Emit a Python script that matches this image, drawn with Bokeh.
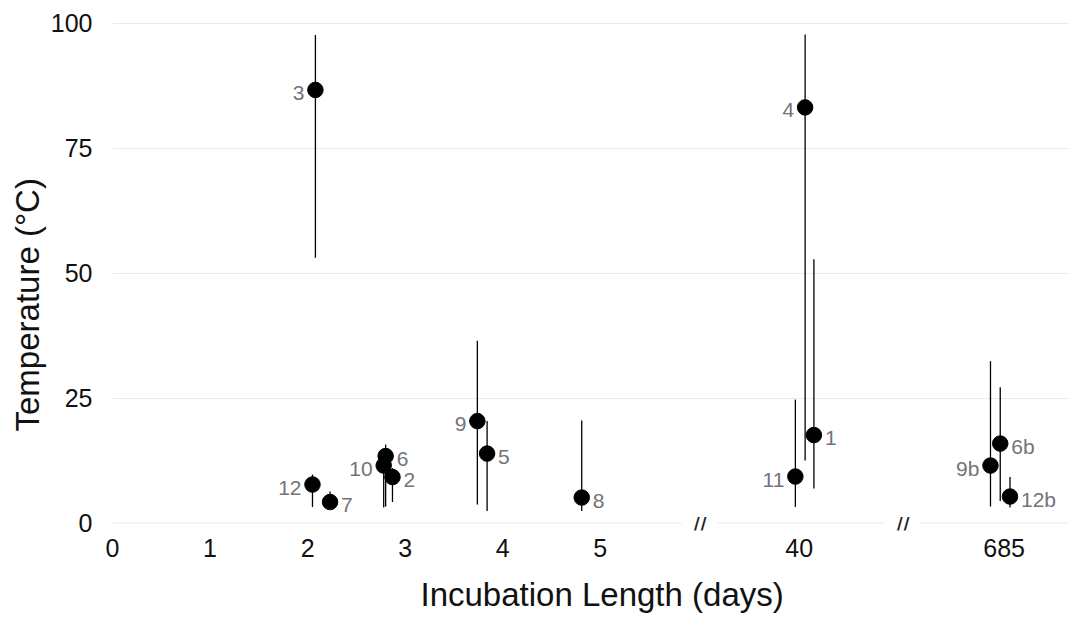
from bokeh.plotting import figure
from bokeh.models import ColumnDataSource, Range1d, FixedTicker, Title
from bokeh.core.properties import value
from bokeh.embed import file_html
from bokeh.resources import INLINE

# ---- data (x positions are on the broken axis: 0-5 days, then 40, then 685) ----
labels = ["3", "12", "7", "10", "6", "2", "9", "5", "8", "11", "4", "1", "9b", "6b", "12b"]
x_pos = [2.08, 2.05, 2.23, 2.78, 2.80, 2.87, 3.74, 3.84, 4.81, 7.00, 7.10, 7.19, 9.00, 9.10, 9.20]
temp = [86.7, 7.7, 4.2, 11.5, 13.4, 9.2, 20.4, 13.9, 5.1, 9.3, 83.2, 17.6, 11.5, 15.9, 5.3]
temp_low = [53.1, 3.2, 3.6, 3.1, 3.3, 4.2, 3.7, 2.4, 2.4, 3.2, 12.5, 6.9, 3.3, 4.4, 3.1]
temp_high = [97.7, 9.7, 6.3, 12.5, 15.7, 11.0, 36.5, 20.4, 20.5, 24.7, 97.8, 52.8, 32.4, 27.2, 9.2]
label_side = ["L", "L", "R", "L", "R", "R", "L", "R", "R", "L", "L", "R", "L", "R", "R"]

x_ticks = [0, 1, 2, 3, 4, 5, 7.04, 9.14]
x_tick_labels = ["0", "1", "2", "3", "4", "5", "40", "685"]
y_ticks = [0, 25, 50, 75, 100]
break_pos = [6.02, 8.10]
break_half_gap = 0.18
X_END = 9.81

FONT = "Liberation Sans"

p = figure(width=1069, height=627, output_backend="svg", toolbar_location=None,
           x_range=Range1d(0, X_END), y_range=Range1d(-1.5, 102))
p.min_border_left = 112
p.min_border_right = 0
p.min_border_top = 13
p.min_border_bottom = 97
p.outline_line_color = None
p.background_fill_color = "white"
p.border_fill_color = "white"

# axes
p.xaxis.ticker = FixedTicker(ticks=x_ticks)
p.xaxis.major_label_overrides = {t: l for t, l in zip(x_ticks, x_tick_labels)}
p.yaxis.ticker = FixedTicker(ticks=y_ticks)
for ax in (p.xaxis[0], p.yaxis[0]):
    ax.axis_line_color = None
    ax.major_tick_line_color = None
    ax.minor_tick_line_color = None
    ax.major_tick_in = 0
    ax.major_tick_out = 0
    ax.major_label_text_font = FONT
    ax.major_label_text_font_size = "25px"
    ax.major_label_text_color = "#111111"
p.yaxis.major_label_standoff = 20
p.xaxis.major_label_standoff = 8

p.xgrid.grid_line_color = None
p.ygrid.ticker = FixedTicker(ticks=[25, 50, 75, 100])
p.ygrid.grid_line_color = "#ebebeb"
p.ygrid.grid_line_width = 1

# baseline with breaks
x0s = [0, break_pos[0] + break_half_gap, break_pos[1] + break_half_gap]
x1s = [break_pos[0] - break_half_gap, break_pos[1] - break_half_gap, X_END]
p.segment(x0=x0s, y0=[0] * 3, x1=x1s, y1=[0] * 3, line_color="#ebebeb", line_width=1)
p.text(x=break_pos, y=[0, 0], text=["//", "//"], text_font=value(FONT),
       text_font_size="24px", text_color="#222222", text_align="center",
       text_baseline="middle", y_offset=2)

# axis titles
p.add_layout(Title(text="Temperature (\u00b0C)", align="left", offset=99,
                   text_font=FONT, text_font_size="33px", text_font_style="normal",
                   text_color="#111111", standoff=4), "left")
p.add_layout(Title(text="Incubation Length (days)", align="left", offset=308,
                   text_font=FONT, text_font_size="33px", text_font_style="normal",
                   text_color="#111111", standoff=28), "below")

src = ColumnDataSource(dict(x=x_pos, y=temp, lo=temp_low, hi=temp_high, label=labels))
p.segment(x0="x", y0="lo", x1="x", y1="hi", source=src, line_color="black", line_width=1.3)
p.scatter(x="x", y="y", source=src, size=15.5, fill_color="black", line_color="black")

left_idx = [i for i, s in enumerate(label_side) if s == "L"]
right_idx = [i for i, s in enumerate(label_side) if s == "R"]
srcL = ColumnDataSource(dict(x=[x_pos[i] for i in left_idx], y=[temp[i] for i in left_idx],
                             label=[labels[i] for i in left_idx]))
srcR = ColumnDataSource(dict(x=[x_pos[i] for i in right_idx], y=[temp[i] for i in right_idx],
                             label=[labels[i] for i in right_idx]))
p.text(x="x", y="y", text="label", source=srcL, text_font=value(FONT), text_font_size="21px",
       text_color="#737378", text_align="right", text_baseline="middle", x_offset=-11, y_offset=3)
p.text(x="x", y="y", text="label", source=srcR, text_font=value(FONT), text_font_size="21px",
       text_color="#737378", text_align="left", text_baseline="middle", x_offset=11, y_offset=3)

open("out.html", "w").write(file_html(p, INLINE))
